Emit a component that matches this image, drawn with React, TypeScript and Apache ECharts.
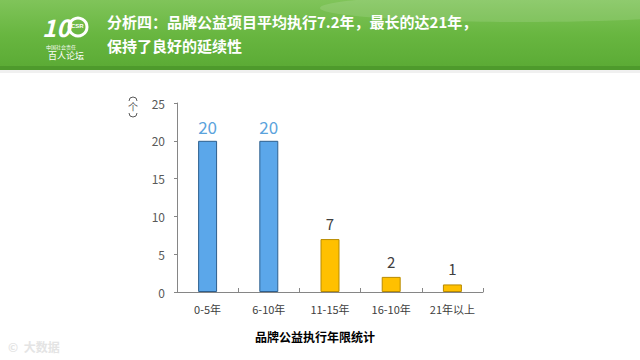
import React, { useEffect, useRef } from "react";
import * as echarts from "echarts";

const categories = ["0-5年", "6-10年", "11-15年", "16-10年", "21年以上"];
const values = [20, 20, 7, 2, 1];
const barColors = ["#5BA7EA", "#5BA7EA", "#FFC000", "#FFC000", "#FFC000"];
const barBorders = ["#2E5F8E", "#2E5F8E", "#B88A00", "#B88A00", "#B88A00"];
const labelColors = ["#5BA3DC", "#5BA3DC", "#404040", "#404040", "#404040"];
const titleLines = ["分析四：品牌公益项目平均执行7.2年，最长的达21年，", "保持了良好的延续性"];

export default function App() {
  const ref = useRef<HTMLDivElement>(null);
  useEffect(() => {
    const chart = echarts.init(ref.current!, null, { renderer: "svg" });
    const font = "'Microsoft YaHei','Noto Sans CJK SC','Noto Sans',sans-serif";
    chart.setOption({
      animation: false,
      backgroundColor: "#ffffff",
      textStyle: { fontFamily: font },
      grid: { left: 177, right: 157, top: 103, bottom: 68 },
      xAxis: {
        type: "category",
        data: categories,
        axisLine: { lineStyle: { color: "#868686", width: 1 } },
        axisTick: { show: true, inside: true, length: 4, lineStyle: { color: "#868686" } },
        axisLabel: { color: "#404040", fontSize: 11, margin: 11, fontFamily: font },
      },
      yAxis: {
        type: "value",
        min: 0,
        max: 25,
        interval: 5,
        axisLine: { show: true, lineStyle: { color: "#868686", width: 1 } },
        axisTick: { show: true, length: 3, lineStyle: { color: "#868686" } },
        splitLine: { show: false },
        axisLabel: { color: "#595959", fontSize: 12, margin: 12, fontFamily: font },
      },
      series: [
        {
          type: "bar",
          barWidth: "31%",
          data: values.map((v, i) => ({
            value: v,
            itemStyle: { color: barColors[i], borderColor: barBorders[i], borderWidth: 1 },
            label: {
              show: true,
              position: "top",
              distance: i < 2 ? 6 : 8,
              color: labelColors[i],
              fontSize: i < 2 ? 17 : 15,
              fontFamily: font,
            },
          })),
        },
      ],
      graphic: [
        {
          type: "rect",
          shape: { x: 0, y: 0, width: 640, height: 70 },
          style: {
            fill: new echarts.graphic.LinearGradient(0, 0, 0, 1, [
              { offset: 0, color: "#80C45A" },
              { offset: 0.5, color: "#68B640" },
              { offset: 1, color: "#5AAA34" },
            ]),
          },
          silent: true,
        },
        {
          type: "ellipse",
          shape: { cx: 520, cy: 8, rx: 200, ry: 14 },
          style: { fill: "rgba(255,255,255,0.12)" },
          silent: true,
        },
        {
          type: "rect",
          shape: { x: 0, y: 66, width: 640, height: 4 },
          style: { fill: "#4E9A2C" },
          silent: true,
        },
        {
          type: "rect",
          shape: { x: 0, y: 70, width: 640, height: 3 },
          style: { fill: "rgba(0,0,0,0.06)" },
          silent: true,
        },
        {
          type: "text",
          left: 42,
          top: 14,
          style: { text: "10", fill: "#ffffff", font: "bold italic 24px " + font },
        },
        {
          type: "circle",
          shape: { cx: 78, cy: 27, r: 9 },
          style: { fill: "none", stroke: "#ffffff", lineWidth: 3 },
        },
        {
          type: "text",
          left: 71,
          top: 23,
          style: { text: "CSR", fill: "#ffffff", font: "bold 6px sans-serif" },
        },
        {
          type: "text",
          left: 46,
          top: 44,
          style: { text: "中国社会责任", fill: "#ffffff", font: "5px " + font },
        },
        {
          type: "text",
          left: 48,
          top: 51,
          style: { text: "百人论坛", fill: "#ffffff", font: "9px " + font },
        },
        {
          type: "text",
          left: 107,
          top: 14,
          style: { text: titleLines[0], fill: "#ffffff", font: "bold 15px " + font },
        },
        {
          type: "text",
          left: 107,
          top: 38,
          style: { text: titleLines[1], fill: "#ffffff", font: "bold 15px " + font },
        },
        {
          type: "arc",
          shape: { cx: 133, cy: 101, r: 4, startAngle: Math.PI, endAngle: Math.PI * 2 },
          style: { stroke: "#595959", lineWidth: 1, fill: "none" },
          silent: true,
        },
        {
          type: "text",
          left: 128,
          top: 101,
          style: { text: "个", fill: "#595959", font: "10px " + font },
        },
        {
          type: "arc",
          shape: { cx: 133, cy: 113, r: 4, startAngle: 0, endAngle: Math.PI },
          style: { stroke: "#595959", lineWidth: 1, fill: "none" },
          silent: true,
        },
        {
          type: "text",
          left: 255,
          top: 330,
          style: {
            text: "品牌公益执行年限统计",
            fill: "#000000",
            font: "bold 12px " + font,
          },
        },
        {
          type: "text",
          left: 8,
          top: 340,
          style: { text: "©  大数据", fill: "#E4E4E4", font: "bold 12px " + font },
        },
      ],
    });
    return () => chart.dispose();
  }, []);
  return <div ref={ref} style={{ width: 640, height: 360, position: "fixed", left: 0, top: 0 }} />;
}
